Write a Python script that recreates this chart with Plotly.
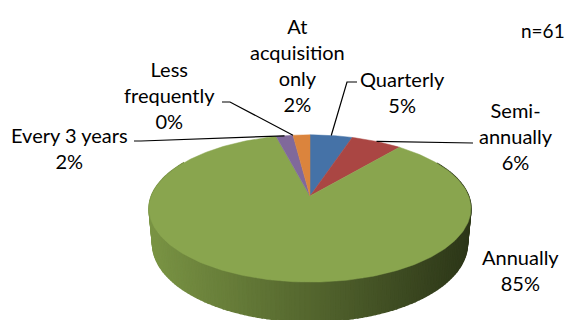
import numpy as np
import plotly.graph_objects as go

# ---- data -------------------------------------------------------------
categories = ["Quarterly", "Semi-annually", "Annually", "Every 3 years",
              "Less frequently", "At acquisition only"]
label_text = ["Quarterly", "Semi-<br>annually", "Annually", "Every 3 years",
              "Less<br>frequently", "At<br>acquisition<br>only"]
shares = [5, 6, 85, 2, 0, 2]
sample_note = "n=61"

slice_colors = ["#4572A7", "#AA4643", "#89A54E", "#80699B", "#3D96AE", "#DB843D"]

# ---- 3-D pie geometry (pixel space of a 569x320 canvas) -----------------
W, H = 569, 320
CX, CY = 310.0, 196.0        # projected centre of the top face
SCALE = 158.6                # radius in pixels at the centre depth
R_OVER_D = 0.19              # radius / camera distance (perspective)
TILT = np.radians(26.8)      # elevation of the view
THICK = 0.25                 # pie thickness relative to the radius


def project(theta, h=0.0):
    """theta: clockwise angle from the far point; h: height (0 = top face)."""
    theta = np.asarray(theta, dtype=float)
    x3 = np.sin(theta)
    z3 = np.cos(theta)
    v = z3 * np.sin(TILT) + h * np.cos(TILT)
    w = 1.0 + R_OVER_D * (z3 * np.cos(TILT) - h * np.sin(TILT))
    return CX + SCALE * x3 / w, CY - SCALE * v / w


total = float(sum(shares))
bounds = np.concatenate([[0.0], np.cumsum(shares)]) / total * 2 * np.pi
mids = (bounds[:-1] + bounds[1:]) / 2

fig = go.Figure()

# side wall: thin strips, far ones first, shaded darker toward the right
left_x = CX - SCALE * 1.015
right_x = CX + SCALE * 1.015
shade_t = np.array([0.0, 0.5, 1.0])
shade_c = np.array([[122, 148, 68], [84, 102, 46], [44, 54, 24]])

strip_edges = np.radians(np.linspace(60, 300, 161))
strips = []
for a0, a1 in zip(strip_edges[:-1], strip_edges[1:]):
    xt0, yt0 = project(a0, 0.0)
    xt1, yt1 = project(a1, 0.0)
    xb0, yb0 = project(a0, -THICK)
    xb1, yb1 = project(a1, -THICK)
    depth = np.cos((a0 + a1) / 2)
    xm = (xt0 + xt1) / 2
    t = np.clip((xm - left_x) / (right_x - left_x), 0, 1)
    rgb = [int(round(np.interp(t, shade_t, shade_c[:, k]))) for k in range(3)]
    col = "rgb({},{},{})".format(*rgb)
    strips.append((depth, [xt0, xt1, xb1, xb0, xt0], [yt0, yt1, yb1, yb0, yt0], col))

strips.sort(key=lambda s: -s[0])
for _, xs, ys, col in strips:
    fig.add_trace(go.Scatter(x=xs, y=ys, mode="lines", fill="toself",
                             fillcolor=col, line=dict(width=1.5, color=col),
                             hoverinfo="skip", showlegend=False))

# top face slices
for cat, val, a0, a1, col in zip(categories, shares, bounds[:-1], bounds[1:], slice_colors):
    if val <= 0:
        continue
    n = max(3, int(np.degrees(a1 - a0)))
    arc = np.linspace(a0, a1, n)
    ax, ay = project(arc, 0.0)
    xs = np.concatenate([[CX], ax, [CX]])
    ys = np.concatenate([[CY], ay, [CY]])
    fig.add_trace(go.Scatter(x=xs, y=ys, mode="lines", fill="toself",
                             fillcolor=col, line=dict(width=0.5, color=col),
                             name=cat, hoverinfo="name", showlegend=False))

# ---- labels -----------------------------------------------------------
label_pos = {
    "Quarterly": (402, 92),
    "Semi-annually": (516, 136),
    "Annually": (520, 270),
    "Every 3 years": (69, 148),
    "Less frequently": (169, 95),
    "At acquisition only": (297, 65),
}
# leader start points (on the label side); None = no leader line
leader_start = {
    "Quarterly": [(357, 82), (347, 82)],
    "Semi-annually": [(473, 143)],
    "Annually": None,
    "Every 3 years": [(134, 141), (141, 141)],
    "Less frequently": [(222, 102), (230, 102)],
    "At acquisition only": None,
}

font = dict(family="Lato, 'Open Sans', sans-serif", size=20, color="#000000")

for cat, txt, val, mid, a0 in zip(categories, label_text, shares, mids, bounds[:-1]):
    lx, ly = label_pos[cat]
    fig.add_annotation(x=lx, y=ly, text=f"{txt}<br>{val}%", showarrow=False,
                       xanchor="center", yanchor="middle", font=font, align="center")
    pts = leader_start[cat]
    if pts:
        ang = mid if val > 0 else a0
        ex, ey = project(ang, 0.0)
        xs = [p[0] for p in pts] + [float(ex)]
        ys = [p[1] for p in pts] + [float(ey)]
        fig.add_trace(go.Scatter(x=xs, y=ys, mode="lines",
                                 line=dict(color="#000000", width=1.2),
                                 hoverinfo="skip", showlegend=False))

fig.add_annotation(x=543, y=30, text=sample_note, showarrow=False,
                   xanchor="center", yanchor="middle",
                   font=dict(family=font["family"], size=19, color="#000000"))

fig.update_layout(
    width=W, height=H,
    margin=dict(l=0, r=0, t=0, b=0),
    paper_bgcolor="white", plot_bgcolor="white",
    xaxis=dict(range=[0, W], visible=False, fixedrange=True),
    yaxis=dict(range=[H, 0], visible=False, fixedrange=True),
    showlegend=False,
)

fig.write_html("out.html")
